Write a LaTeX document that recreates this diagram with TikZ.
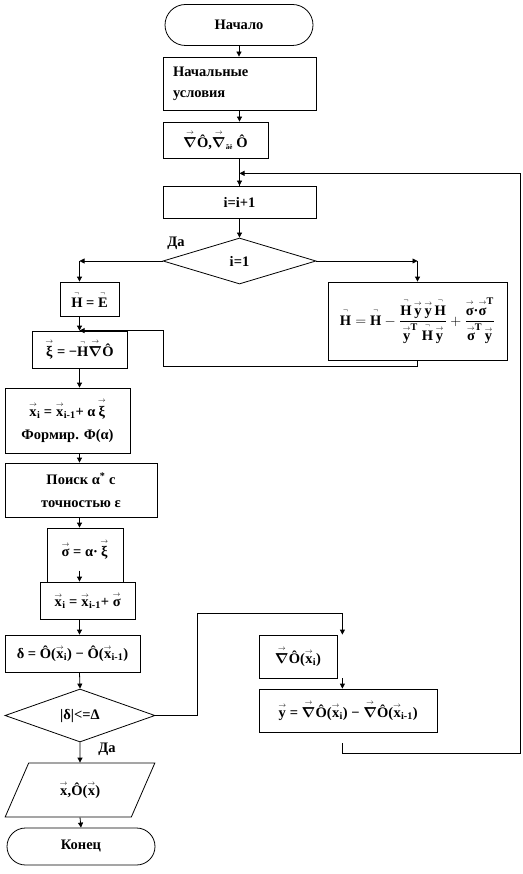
\documentclass[tikz,border=0pt]{standalone}
\usepackage{amsmath}
\usepackage{fontspec}
\setmainfont{Liberation Serif}
\usetikzlibrary{shapes.geometric,shapes.misc,arrows.meta,calc}

\newcommand\va[1]{\ensuremath{\overset{\scriptscriptstyle\rightarrow}{\text{#1}}}}
\newcommand\vm[1]{\ensuremath{\overset{\scriptscriptstyle\neg}{\text{#1}}}}
\newcommand\nab{\ensuremath{\boldsymbol{\nabla}}}

\begin{document}
\begin{tikzpicture}[x=1pt,y=-1pt,
  font=\fontsize{14.5}{17}\selectfont\bfseries,
  box/.style={draw, line width=0.8pt, inner sep=2pt, align=center},
  term/.style={draw, rounded rectangle, line width=0.8pt, inner sep=2pt},
  dec/.style={draw, diamond, line width=0.8pt, inner sep=0pt},
  arr/.style={-{Triangle[length=5pt,width=5pt]}, line width=0.8pt},
  ln/.style={line width=0.8pt}]
\useasboundingbox (0,0) rectangle (522,874);

% main column
\node[term, minimum width=152, minimum height=41] (start) at (239,25) {Начало};
\node[box, minimum width=153, minimum height=53, text width=133, align=left, inner xsep=10pt,
      font=\fontsize{14.5}{21}\selectfont\bfseries] (init) at (239.5,83.5) {Начальные\\условия};
\node[box, minimum width=105, minimum height=36] (grad) at (215.5,140)
   {\va{\nab}Ô,\va{\nab}\textsubscript{\scriptsize ãë}\ Ô};
\node[box, minimum width=153, minimum height=32] (inc) at (239.5,202) {i=i+1};
\node[dec, minimum width=153, minimum height=46] (dia1) at (239.5,261) {i=1};

\node[box, minimum width=59, minimum height=34] (HE) at (89.5,299) {\vm{H} = \vm{E}};
\node[box, minimum width=95, minimum height=37] (xi) at (79.5,349.5) {\va{ξ} = −\vm{H}\va{\nab}Ô};
\node[box, minimum width=179, minimum height=78] (Hbig) at (417.5,321)
  {$\vm{H}=\vm{H}-\dfrac{\vm{H}\,\va{y}\,\va{y}\,\vm{H}}{\va{y}^{\text{T}}\;\vm{H}\,\va{y}}
     +\dfrac{\va{σ}\text{·}\va{σ}^{\text{T}}}{\va{σ}^{\text{T}}\,\va{y}}$};

\node[box, minimum width=125, minimum height=65, font=\fontsize{14.5}{23}\selectfont\bfseries] (xupd) at (67.5,420.5)
  {\va{x}\textsubscript{i} = \va{x}\textsubscript{i-1}+ α\,\va{ξ}\\Формир. Φ(α)};
\node[box, minimum width=152, minimum height=54, font=\fontsize{14.5}{23}\selectfont\bfseries] (search) at (81,490)
  {Поиск α\textsuperscript{*} с\\точностью ε};
\node[box, minimum width=76, minimum height=54, text depth=14pt] (sigma) at (85,555) {\va{σ} = α·\,\va{ξ}};
\node[box, minimum width=95, minimum height=37] (xupd2) at (87.5,600.5)
  {\va{x}\textsubscript{i} = \va{x}\textsubscript{i-1}+ \va{σ}};
\node[box, minimum width=135, minimum height=37] (delta) at (72.5,653.5)
  {δ = Ô(\va{x}\textsubscript{i}) − Ô(\va{x}\textsubscript{i-1})};
\node[dec, minimum width=150, minimum height=53] (dia2) at (80,715.5) {|δ|<=Δ};
\node[draw, trapezium, trapezium left angle=61, trapezium right angle=119,
      trapezium stretches=true, minimum width=150, minimum height=54, line width=0.8pt,
      inner sep=0pt] (para) at (80,790) {\va{x},Ô(\va{x})};
\node[term, minimum width=152, minimum height=37] (end) at (81,846.5) {Конец};

% right column
\node[box, minimum width=78, minimum height=43] (gfi) at (298,656.5) {\va{\nab}Ô(\va{x}\textsubscript{i})};
\node[box, minimum width=178, minimum height=43] (ydef) at (348,710.5)
  {\va{y} = \va{\nab}Ô(\va{x}\textsubscript{i}) − \va{\nab}Ô(\va{x}\textsubscript{i-1})};

% labels
\node at (176,243) {Да};
\node at (107,749) {Да};

% connectors main
\draw[ln] (grad.south -| inc.north) -- (inc.north);
\draw[arr] (start.south) -- (start.south |- init.north);
\draw[arr] (init.south) -- (init.south |- grad.north);
\draw[arr] ($(grad.south -| inc.north)!0.75!(inc.north)$) -- (inc.north);
\draw[arr] (inc.south) -- (dia1.north);

\coordinate (bL) at (xi.north |- dia1.west);
\coordinate (bR) at (Hbig.north |- dia1.east);
\draw[arr] (dia1.west) -- (bL);
\draw[arr] (bL) -- (bL |- HE.north);
\draw[arr] (dia1.east) -- (bR);
\draw[arr] (bR) -- (Hbig.north);

\draw[arr] (xi.north |- HE.south) -- (xi.north);
\draw[arr] (Hbig.south) -- ++(0,6) -| ([xshift=83.5pt]xi.north) -- (xi.north);

\draw[arr] (xi.south) -- (xi.south |- xupd.north);
\draw[arr] (xi.south |- xupd.south) -- (xi.south |- search.north);
\draw[arr] (xi.south |- search.south) -- (xi.south |- sigma.north);
\draw[arr] (xi.south |- xupd2.north) ++(0,-11) -- (xi.south |- xupd2.north);
\draw[arr] (xi.south |- xupd2.south) -- (xi.south |- delta.north);
\draw[arr] (xi.south |- delta.south) -- (dia2.north);
\draw[arr] (dia2.south) -- (para.north);
\draw[arr] (para.south) -- (end.north);

% right loop from decision
\coordinate (rc) at ([xshift=5pt]gfi.north east);
\coordinate (lp) at ($(grad.south -| inc.north)!0.55!(inc.north)$);
\draw[arr] (dia2.east) -- ++(42,0) |- ([yshift=21pt]rc) -- (rc);
\draw[arr] (rc |- gfi.south) -- (rc |- ydef.north);
\draw[arr] (rc |- ydef.south) ++(0,11) -- ++(0,10) -| ([xshift=83pt]ydef.east) |- (lp);
\end{tikzpicture}
\end{document}
